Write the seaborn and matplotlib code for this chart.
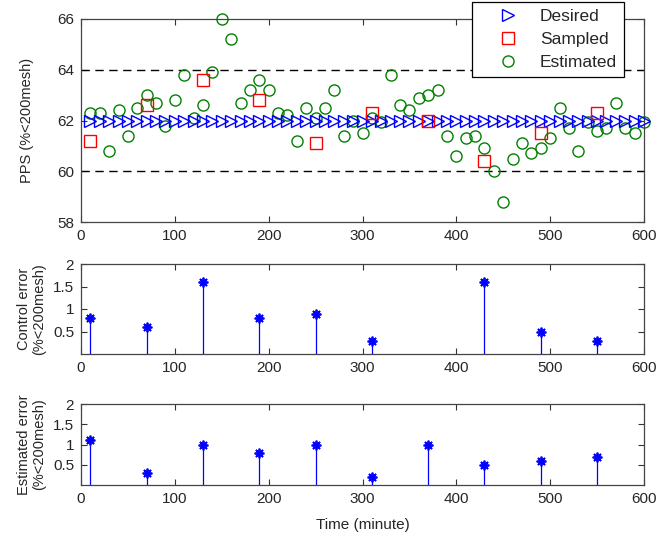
import numpy as np
import pandas as pd
import matplotlib
matplotlib.use("Agg")
import matplotlib.pyplot as plt
import seaborn as sns

# ---------------- data ----------------
time_all = list(range(10, 601, 10))
desired = [62.0] * len(time_all)
estimated = [62.3, 62.3, 60.8, 62.4, 61.4, 62.5, 63.0, 62.7, 61.8, 62.8,
             63.8, 62.1, 62.6, 63.9, 66.0, 65.2, 62.7, 63.2, 63.6, 63.2,
             62.3, 62.2, 61.2, 62.5, 62.1, 62.5, 63.2, 61.4, 62.0, 61.5,
             62.1, 61.95, 63.8, 62.6, 62.4, 62.9, 63.0, 63.2, 61.4, 60.6,
             61.3, 61.4, 60.9, 60.0, 58.8, 60.5, 61.1, 60.7, 60.9, 61.3,
             62.5, 61.7, 60.8, 61.95, 61.6, 61.7, 62.7, 61.7, 61.5, 61.95]
sample_time = [10, 70, 130, 190, 250, 310, 370, 430, 490, 550]
sampled = [61.2, 62.6, 63.6, 62.8, 61.1, 62.3, 62.0, 60.4, 61.5, 62.3]
ctrl_time = [10, 70, 130, 190, 250, 310, 430, 490, 550]
ctrl_err = [0.8, 0.6, 1.6, 0.8, 0.9, 0.3, 1.6, 0.5, 0.3]
est_err = [1.1, 0.3, 1.0, 0.8, 1.0, 0.2, 1.0, 0.5, 0.6, 0.7]
x_ticks = [0, 100, 200, 300, 400, 500, 600]
top_yticks = [58, 60, 62, 64, 66]
err_yticks = [0.5, 1, 1.5, 2]
err_yticklabels = ["0.5", "1", "1.5", "2"]
limits = [60, 64]

sns.set_style("ticks")
plt.rcParams['font.family'] = ['Liberation Sans', 'DejaVu Sans']
plt.rcParams['font.size'] = 10.5

W, H = 658, 541
fig = plt.figure(figsize=(W / 100, H / 100), dpi=100)
L, R = 81, 644


def make_ax(top, bottom):
    return fig.add_axes([L / W, 1 - bottom / H, (R - L) / W, (bottom - top) / H])


ax1 = make_ax(19, 222)
ax2 = make_ax(264, 354)
ax3 = make_ax(404, 485)

blue = (0, 0, 1)
red = (1, 0, 0)
green = (0, 0.5, 0)
asterisk = (8, 2, 0)

df_top = pd.DataFrame({"t": time_all, "desired": desired, "estimated": estimated})
df_s = pd.DataFrame({"t": sample_time, "sampled": sampled})

for yv in limits:
    ax1.axhline(yv, color='black', ls=(0, (6, 4)), lw=1, zorder=1)

sns.lineplot(data=df_top, x="t", y="desired", ax=ax1, linestyle='', marker='>',
             markersize=9, mfc='none', mec=blue, mew=1, label='Desired',
             clip_on=False, zorder=3)
sns.lineplot(data=df_s, x="t", y="sampled", ax=ax1, linestyle='', marker='s',
             markersize=8, mfc='none', mec=red, mew=1, label='Sampled',
             clip_on=False, zorder=4)
sns.lineplot(data=df_top, x="t", y="estimated", ax=ax1, linestyle='', marker='o',
             markersize=8, mfc='none', mec=green, mew=1, label='Estimated',
             clip_on=False, zorder=2)
ax1.set_ylim(58, 66)
ax1.set_yticks(top_yticks)
ax1.set_ylabel("PPS (%<200mesh)")
ax1.yaxis.set_label_coords(-0.083, 0.5)
leg = ax1.legend(loc='upper right', bbox_to_anchor=(0.9645, 1.084), fontsize=12.5,
                 frameon=True, fancybox=False, edgecolor='black', framealpha=1,
                 borderaxespad=0, handlelength=3.3, labelspacing=0.45,
                 handletextpad=0.2, borderpad=0.4)
leg.get_frame().set_linewidth(0.9)
leg.set_zorder(10)

df_c = pd.DataFrame({"t": ctrl_time, "err": ctrl_err})
ax2.vlines(df_c["t"], 0, df_c["err"], color=blue, lw=0.9)
sns.lineplot(data=df_c, x="t", y="err", ax=ax2, linestyle='', marker=asterisk,
             markersize=7, color=blue, mec=blue, mew=1.3)
ax2.set_ylim(0, 2)
ax2.set_yticks(err_yticks)
ax2.set_yticklabels(err_yticklabels)
ax2.set_ylabel("Control error\n(%<200mesh)", linespacing=1.1)
ax2.yaxis.set_label_coords(-0.062, 0.5)

df_e = pd.DataFrame({"t": sample_time, "err": est_err})
ax3.vlines(df_e["t"], 0, df_e["err"], color=blue, lw=0.9)
sns.lineplot(data=df_e, x="t", y="err", ax=ax3, linestyle='', marker=asterisk,
             markersize=7, color=blue, mec=blue, mew=1.3)
ax3.set_ylim(0, 2)
ax3.set_yticks(err_yticks)
ax3.set_yticklabels(err_yticklabels)
ax3.set_ylabel("Estimated error\n(%<200mesh)", linespacing=1.1)
ax3.yaxis.set_label_coords(-0.062, 0.5)
ax3.set_xlabel("Time (minute)", fontsize=11, labelpad=9)

for ax in (ax1, ax2, ax3):
    ax.set_xlim(0, 600)
    ax.set_xticks(x_ticks)
    if ax is not ax3:
        ax.set_xlabel("")
    ax.tick_params(direction='in', top=True, right=True, length=4, width=0.8,
                   labelsize=11, color='#333333', pad=5)
    for s in ax.spines.values():
        s.set_visible(True)
        s.set_linewidth(0.9)
        s.set_color('#444444')

fig.savefig("out.png", dpi=100)
